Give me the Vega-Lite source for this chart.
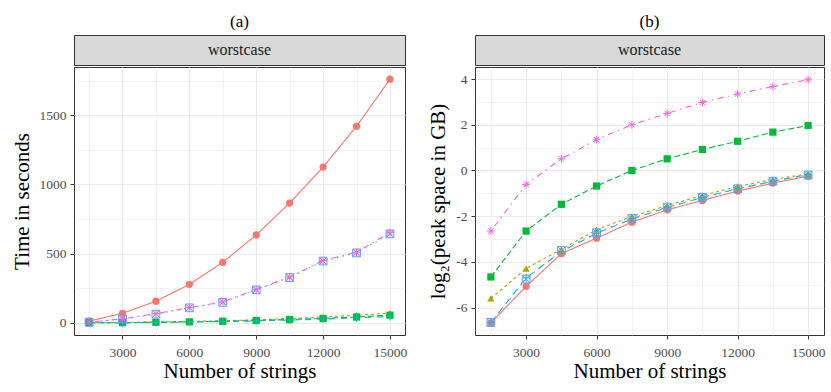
{
  "$schema": "https://vega.github.io/schema/vega-lite/v6.json",
  "background": "white",
  "padding": {"left": 10, "top": 12, "right": 5, "bottom": 5},
  "config": {
    "font": "Liberation Serif",
    "view": {"stroke": "#333333"},
    "concat": {"spacing": 19},
    "axis": {"domain": false, "tickColor": "#333333", "tickSize": 4, "tickWidth": 1, "labelColor": "#4D4D4D", "labelFontSize": 13.5, "labelFont": "Liberation Serif", "titleFont": "Liberation Serif", "titleFontSize": 21, "titleFontWeight": "normal", "titleColor": "black", "gridColor": "#EBEBEB"},
    "axisX": {"labelPadding": 6, "titlePadding": 2},
    "axisY": {"labelPadding": 4, "titlePadding": 7},
    "title": {"fontSize": 17, "fontWeight": "normal", "font": "Liberation Serif", "anchor": "middle", "color": "black"}
  },
  "datasets": {
    "time": [
      {"m": "A", "n": 1500, "v": 12}, {"m": "A", "n": 3000, "v": 69}, {"m": "A", "n": 4500, "v": 156}, {"m": "A", "n": 6000, "v": 278}, {"m": "A", "n": 7500, "v": 437}, {"m": "A", "n": 9000, "v": 635}, {"m": "A", "n": 10500, "v": 865}, {"m": "A", "n": 12000, "v": 1125}, {"m": "A", "n": 13500, "v": 1420}, {"m": "A", "n": 15000, "v": 1760},
      {"m": "B", "n": 1500, "v": 1}, {"m": "B", "n": 3000, "v": 3}, {"m": "B", "n": 4500, "v": 6}, {"m": "B", "n": 6000, "v": 10}, {"m": "B", "n": 7500, "v": 15}, {"m": "B", "n": 9000, "v": 22}, {"m": "B", "n": 10500, "v": 31}, {"m": "B", "n": 12000, "v": 42}, {"m": "B", "n": 13500, "v": 55}, {"m": "B", "n": 15000, "v": 70},
      {"m": "C", "n": 1500, "v": 0}, {"m": "C", "n": 3000, "v": 1}, {"m": "C", "n": 4500, "v": 4}, {"m": "C", "n": 6000, "v": 7}, {"m": "C", "n": 7500, "v": 11}, {"m": "C", "n": 9000, "v": 17}, {"m": "C", "n": 10500, "v": 24}, {"m": "C", "n": 12000, "v": 32}, {"m": "C", "n": 13500, "v": 42}, {"m": "C", "n": 15000, "v": 55},
      {"m": "D", "n": 1500, "v": 0}, {"m": "D", "n": 3000, "v": 1}, {"m": "D", "n": 4500, "v": 3}, {"m": "D", "n": 6000, "v": 6}, {"m": "D", "n": 7500, "v": 9}, {"m": "D", "n": 9000, "v": 14}, {"m": "D", "n": 10500, "v": 20}, {"m": "D", "n": 12000, "v": 27}, {"m": "D", "n": 13500, "v": 36}, {"m": "D", "n": 15000, "v": 45},
      {"m": "E", "n": 1500, "v": 5}, {"m": "E", "n": 3000, "v": 27}, {"m": "E", "n": 4500, "v": 63}, {"m": "E", "n": 6000, "v": 108}, {"m": "E", "n": 7500, "v": 148}, {"m": "E", "n": 9000, "v": 238}, {"m": "E", "n": 10500, "v": 327}, {"m": "E", "n": 12000, "v": 446}, {"m": "E", "n": 13500, "v": 505}, {"m": "E", "n": 15000, "v": 642},
      {"m": "F", "n": 1500, "v": 5}, {"m": "F", "n": 3000, "v": 29}, {"m": "F", "n": 4500, "v": 66}, {"m": "F", "n": 6000, "v": 110}, {"m": "F", "n": 7500, "v": 151}, {"m": "F", "n": 9000, "v": 242}, {"m": "F", "n": 10500, "v": 331}, {"m": "F", "n": 12000, "v": 450}, {"m": "F", "n": 13500, "v": 510}, {"m": "F", "n": 15000, "v": 652}
    ],
    "space": [
      {"m": "A", "n": 1500, "v": -6.67}, {"m": "A", "n": 3000, "v": -5.07}, {"m": "A", "n": 4500, "v": -3.64}, {"m": "A", "n": 6000, "v": -2.96}, {"m": "A", "n": 7500, "v": -2.26}, {"m": "A", "n": 9000, "v": -1.72}, {"m": "A", "n": 10500, "v": -1.31}, {"m": "A", "n": 12000, "v": -0.9}, {"m": "A", "n": 13500, "v": -0.55}, {"m": "A", "n": 15000, "v": -0.25},
      {"m": "B", "n": 1500, "v": -5.6}, {"m": "B", "n": 3000, "v": -4.29}, {"m": "B", "n": 4500, "v": -3.45}, {"m": "B", "n": 6000, "v": -2.59}, {"m": "B", "n": 7500, "v": -2.01}, {"m": "B", "n": 9000, "v": -1.53}, {"m": "B", "n": 10500, "v": -1.09}, {"m": "B", "n": 12000, "v": -0.7}, {"m": "B", "n": 13500, "v": -0.39}, {"m": "B", "n": 15000, "v": -0.15},
      {"m": "C", "n": 1500, "v": -4.66}, {"m": "C", "n": 3000, "v": -2.65}, {"m": "C", "n": 4500, "v": -1.48}, {"m": "C", "n": 6000, "v": -0.68}, {"m": "C", "n": 7500, "v": 0.0}, {"m": "C", "n": 9000, "v": 0.51}, {"m": "C", "n": 10500, "v": 0.92}, {"m": "C", "n": 12000, "v": 1.28}, {"m": "C", "n": 13500, "v": 1.68}, {"m": "C", "n": 15000, "v": 1.97},
      {"m": "D", "n": 1500, "v": -6.65}, {"m": "D", "n": 3000, "v": -4.7}, {"m": "D", "n": 4500, "v": -3.55}, {"m": "D", "n": 6000, "v": -2.75}, {"m": "D", "n": 7500, "v": -2.12}, {"m": "D", "n": 9000, "v": -1.62}, {"m": "D", "n": 10500, "v": -1.18}, {"m": "D", "n": 12000, "v": -0.8}, {"m": "D", "n": 13500, "v": -0.47}, {"m": "D", "n": 15000, "v": -0.18},
      {"m": "E", "n": 1500, "v": -6.65}, {"m": "E", "n": 3000, "v": -4.75}, {"m": "E", "n": 4500, "v": -3.5}, {"m": "E", "n": 6000, "v": -2.72}, {"m": "E", "n": 7500, "v": -2.1}, {"m": "E", "n": 9000, "v": -1.6}, {"m": "E", "n": 10500, "v": -1.17}, {"m": "E", "n": 12000, "v": -0.8}, {"m": "E", "n": 13500, "v": -0.47}, {"m": "E", "n": 15000, "v": -0.2},
      {"m": "F", "n": 1500, "v": -2.65}, {"m": "F", "n": 3000, "v": -0.61}, {"m": "F", "n": 4500, "v": 0.51}, {"m": "F", "n": 6000, "v": 1.35}, {"m": "F", "n": 7500, "v": 2.0}, {"m": "F", "n": 9000, "v": 2.5}, {"m": "F", "n": 10500, "v": 2.98}, {"m": "F", "n": 12000, "v": 3.35}, {"m": "F", "n": 13500, "v": 3.68}, {"m": "F", "n": 15000, "v": 3.97}
    ],
    "stripdata": [{"strip": "worstcase"}]
  },
  "hconcat": [
    {
      "spacing": 0,
      "vconcat": [
        {
          "width": 331, "height": 30,
          "title": {"text": "(a)", "frame": "group", "offset": 4},
          "data": {"name": "stripdata"},
          "view": {"fill": "#D9D9D9", "stroke": "#333333"},
          "mark": {"type": "text", "fontSize": 16, "color": "#1A1A1A", "font": "Liberation Serif"},
          "encoding": {"text": {"field": "strip", "type": "nominal"}}
        },
        {
          "width": 331, "height": 268,
          "data": {"name": "time"},
          "encoding": {
            "x": {"field": "n", "type": "quantitative", "title": "Number of strings",
              "scale": {"domain": [825, 15675], "nice": false, "zero": false},
              "axis": {"values": [1500, 3000, 4500, 6000, 7500, 9000, 10500, 12000, 13500, 15000],
                "labelExpr": "datum.value % 3000 === 0 ? '' + datum.value : ''", "labelOverlap": false, "labelFlush": false,
                "tickOpacity": {"condition": {"test": "datum.value % 3000 === 0", "value": 1}, "value": 0},
                "gridWidth": {"condition": {"test": "datum.value % 3000 === 0", "value": 1.1}, "value": 0.6}}},
            "y": {"field": "v", "type": "quantitative", "title": "Time in seconds",
              "scale": {"domain": [-88, 1848], "nice": false, "zero": false},
              "axis": {"values": [0, 250, 500, 750, 1000, 1250, 1500, 1750],
                "labelExpr": "datum.value % 500 === 0 ? '' + datum.value : ''", "labelOverlap": false, "labelFlush": false,
                "tickOpacity": {"condition": {"test": "datum.value % 500 === 0", "value": 1}, "value": 0},
                "gridWidth": {"condition": {"test": "datum.value % 500 === 0", "value": 1.1}, "value": 0.6}}},
            "color": {"field": "m", "type": "nominal", "legend": null,
              "scale": {"domain": ["A", "B", "C", "D", "E", "F"], "range": ["#F8766D", "#B79F00", "#00BA38", "#00BFC4", "#619CFF", "#F564E3"]}}
          },
          "layer": [
            {"mark": {"type": "line", "strokeWidth": 1.1},
              "encoding": {"strokeDash": {"field": "m", "type": "nominal", "legend": null,
                "scale": {"domain": ["A", "B", "C", "D", "E", "F"], "range": [[1, 0], [3, 3], [6, 3], [6, 6], [1.5, 4.5], [1.5, 4.5, 6, 4.5]]}}}},
            {"transform": [{"filter": {"field": "m", "oneOf": ["A", "B", "C"]}}],
              "mark": {"type": "point", "filled": true, "opacity": 1},
              "encoding": {"size": {"value": 52}, "shape": {"field": "m", "type": "nominal", "legend": null,
                "scale": {"domain": ["A", "B", "C", "D", "E", "F"], "range": ["circle", "triangle-up", "square", "M-1,0L1,0M0,-1L0,1", "M-1,-1L1,-1L1,1L-1,1ZM-1,-1L1,1M-1,1L1,-1", "M-1,0L1,0M0,-1L0,1M-0.7,-0.7L0.7,0.7M-0.7,0.7L0.7,-0.7"]}}}},
            {"transform": [{"filter": {"field": "m", "oneOf": ["D", "E", "F"]}}],
              "mark": {"type": "point", "filled": false, "opacity": 1, "strokeWidth": 1},
              "encoding": {"size": {"value": 60}, "shape": {"field": "m", "type": "nominal", "legend": null,
                "scale": {"domain": ["A", "B", "C", "D", "E", "F"], "range": ["circle", "triangle-up", "square", "M-1,0L1,0M0,-1L0,1", "M-1,-1L1,-1L1,1L-1,1ZM-1,-1L1,1M-1,1L1,-1", "M-1,0L1,0M0,-1L0,1M-0.7,-0.7L0.7,0.7M-0.7,0.7L0.7,-0.7"]}}}}
          ]
        }
      ]
    },
    {
      "spacing": 0,
      "vconcat": [
        {
          "width": 349, "height": 30,
          "title": {"text": "(b)", "frame": "group", "offset": 4},
          "data": {"name": "stripdata"},
          "view": {"fill": "#D9D9D9", "stroke": "#333333"},
          "mark": {"type": "text", "fontSize": 16, "color": "#1A1A1A", "font": "Liberation Serif"},
          "encoding": {"text": {"field": "strip", "type": "nominal"}}
        },
        {
          "width": 349, "height": 268,
          "data": {"name": "space"},
          "encoding": {
            "x": {"field": "n", "type": "quantitative", "title": "Number of strings",
              "scale": {"domain": [825, 15675], "nice": false, "zero": false},
              "axis": {"values": [1500, 3000, 4500, 6000, 7500, 9000, 10500, 12000, 13500, 15000],
                "labelExpr": "datum.value % 3000 === 0 ? '' + datum.value : ''", "labelOverlap": false, "labelFlush": false,
                "tickOpacity": {"condition": {"test": "datum.value % 3000 === 0", "value": 1}, "value": 0},
                "gridWidth": {"condition": {"test": "datum.value % 3000 === 0", "value": 1.1}, "value": 0.6}}},
            "y": {"field": "v", "type": "quantitative", "title": "log₂(peak space in GB)",
              "scale": {"domain": [-7.2, 4.53], "nice": false, "zero": false},
              "axis": {"values": [-7, -6, -5, -4, -3, -2, -1, 0, 1, 2, 3, 4],
                "labelExpr": "datum.value % 2 === 0 ? '' + datum.value : ''", "labelOverlap": false, "labelFlush": false,
                "tickOpacity": {"condition": {"test": "datum.value % 2 === 0", "value": 1}, "value": 0},
                "gridWidth": {"condition": {"test": "datum.value % 2 === 0", "value": 1.1}, "value": 0.6}}},
            "color": {"field": "m", "type": "nominal", "legend": null,
              "scale": {"domain": ["A", "B", "C", "D", "E", "F"], "range": ["#F8766D", "#B79F00", "#00BA38", "#00BFC4", "#619CFF", "#F564E3"]}}
          },
          "layer": [
            {"mark": {"type": "line", "strokeWidth": 1.1},
              "encoding": {"strokeDash": {"field": "m", "type": "nominal", "legend": null,
                "scale": {"domain": ["A", "B", "C", "D", "E", "F"], "range": [[1, 0], [3, 3], [6, 3], [6, 6], [1.5, 4.5], [1.5, 4.5, 6, 4.5]]}}}},
            {"transform": [{"filter": {"field": "m", "oneOf": ["A", "B", "C"]}}],
              "mark": {"type": "point", "filled": true, "opacity": 1},
              "encoding": {"size": {"value": 52}, "shape": {"field": "m", "type": "nominal", "legend": null,
                "scale": {"domain": ["A", "B", "C", "D", "E", "F"], "range": ["circle", "triangle-up", "square", "M-1,0L1,0M0,-1L0,1", "M-1,-1L1,-1L1,1L-1,1ZM-1,-1L1,1M-1,1L1,-1", "M-1,0L1,0M0,-1L0,1M-0.7,-0.7L0.7,0.7M-0.7,0.7L0.7,-0.7"]}}}},
            {"transform": [{"filter": {"field": "m", "oneOf": ["D", "E", "F"]}}],
              "mark": {"type": "point", "filled": false, "opacity": 1, "strokeWidth": 1},
              "encoding": {"size": {"value": 60}, "shape": {"field": "m", "type": "nominal", "legend": null,
                "scale": {"domain": ["A", "B", "C", "D", "E", "F"], "range": ["circle", "triangle-up", "square", "M-1,0L1,0M0,-1L0,1", "M-1,-1L1,-1L1,1L-1,1ZM-1,-1L1,1M-1,1L1,-1", "M-1,0L1,0M0,-1L0,1M-0.7,-0.7L0.7,0.7M-0.7,0.7L0.7,-0.7"]}}}}
          ]
        }
      ]
    }
  ]
}
